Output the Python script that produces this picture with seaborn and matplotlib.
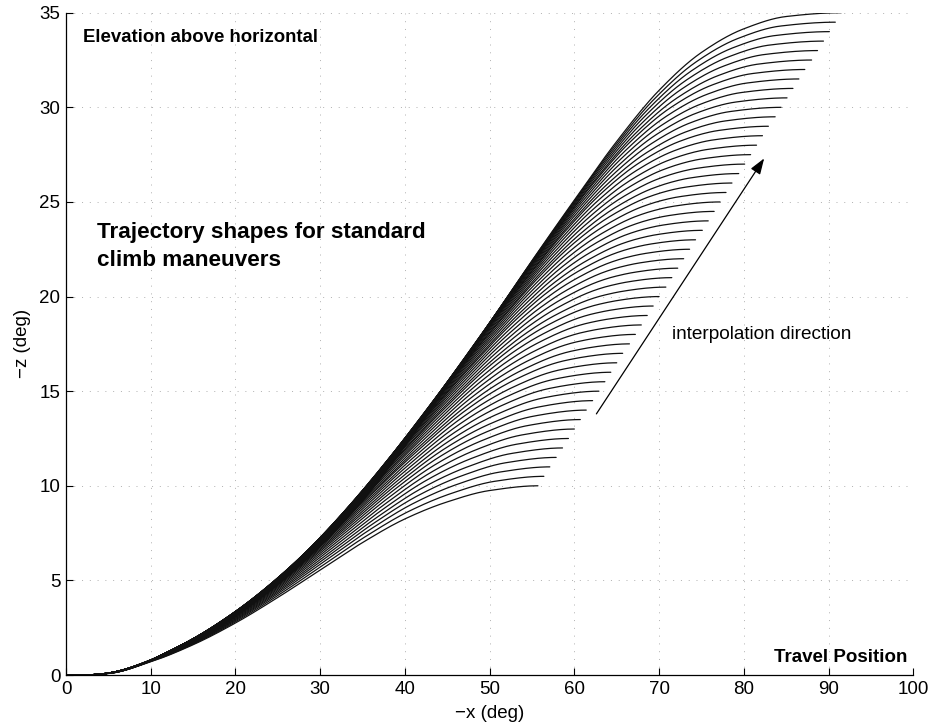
import numpy as np
import pandas as pd
import matplotlib
matplotlib.use("Agg")
import matplotlib.pyplot as plt
import seaborn as sns

# ---- data ----
# final elevation of each trajectory (deg) and travel position where it ends (deg)
final_elevation = [10.0, 10.5, 11.0, 11.5, 12.0, 12.5, 13.0, 13.5, 14.0, 14.5,
                   15.0, 15.5, 16.0, 16.5, 17.0, 17.5, 18.0, 18.5, 19.0, 19.5,
                   20.0, 20.5, 21.0, 21.5, 22.0, 22.5, 23.0, 23.5, 24.0, 24.5,
                   25.0, 25.5, 26.0, 26.5, 27.0, 27.5, 28.0, 28.5, 29.0, 29.5,
                   30.0, 30.5, 31.0, 31.5, 32.0, 32.5, 33.0, 33.5, 34.0, 34.5,
                   35.0]
end_travel = [55.7, 56.4, 57.1, 57.85, 58.6, 59.3, 60.0, 60.7, 61.4, 62.15,
              62.9, 63.6, 64.3, 65.0, 65.7, 66.5, 67.2, 67.9, 68.6, 69.3,
              70.0, 70.8, 71.5, 72.2, 72.9, 73.6, 74.3, 75.1, 75.8, 76.5,
              77.2, 77.9, 78.6, 79.4, 80.1, 80.8, 81.5, 82.2, 82.9, 83.7,
              84.4, 85.1, 85.8, 86.5, 87.2, 88.0, 88.7, 89.4, 90.1, 90.8,
              91.5]

# shape of the highest trajectory (read points)
top_x = [0, 2, 5, 10, 15, 20, 25, 30, 35, 40, 45, 50, 55, 60, 65, 70, 75, 80, 85, 91.5]
top_z = [0, 0, 0.1, 0.8, 1.85, 3.15, 4.8, 6.8, 9.2, 12.1, 15.3, 18.6, 21.9, 25.1,
         28.2, 30.9, 32.9, 34.15, 34.8, 35.0]
# shape of the lowest trajectory (read points)
bot_x = [0, 2, 5, 10, 15, 20, 25, 30, 35, 40, 45, 50, 55.7]
bot_z = [0, 0, 0.08, 0.7, 1.6, 2.75, 4.1, 5.55, 7.0, 8.25, 9.15, 9.75, 10.0]

x_ticks = [0, 10, 20, 30, 40, 50, 60, 70, 80, 90, 100]
y_ticks = [0, 5, 10, 15, 20, 25, 30, 35]


def pchip(xk, yk, xq):
    xk = np.asarray(xk, float)
    yk = np.asarray(yk, float)
    h = np.diff(xk)
    d = np.diff(yk) / h
    n = len(xk)
    m = np.zeros(n)
    for i in range(1, n - 1):
        if d[i - 1] * d[i] <= 0:
            m[i] = 0.0
        else:
            w1 = 2 * h[i] + h[i - 1]
            w2 = h[i] + 2 * h[i - 1]
            m[i] = (w1 + w2) / (w1 / d[i - 1] + w2 / d[i])
    m[0] = 0.0
    m[-1] = 0.0
    idx = np.clip(np.searchsorted(xk, xq) - 1, 0, n - 2)
    t = (xq - xk[idx]) / h[idx]
    h00 = 2 * t**3 - 3 * t**2 + 1
    h10 = t**3 - 2 * t**2 + t
    h01 = -2 * t**3 + 3 * t**2
    h11 = t**3 - t**2
    return (h00 * yk[idx] + h10 * h[idx] * m[idx] + h01 * yk[idx + 1]
            + h11 * h[idx] * m[idx + 1])


u = np.linspace(0, 1, 300)
tn_x = np.array(top_x) / top_x[-1]
tn_z = np.array(top_z) / top_z[-1]
bn_x = np.array(bot_x) / bot_x[-1]
bn_z = np.array(bot_z) / bot_z[-1]
v_top = pchip(tn_x, tn_z, u)
v_bot = pchip(bn_x, bn_z, u)

e_min, e_max = final_elevation[0], final_elevation[-1]
rows = []
for k, (e, xe) in enumerate(zip(final_elevation, end_travel)):
    w = (e - e_min) / (e_max - e_min)
    v = (1 - w) * v_bot + w * v_top
    rows.append(pd.DataFrame({"x": u * xe, "z": v * e, "curve": k}))
df = pd.concat(rows, ignore_index=True)

# ---- plot ----
sns.set_theme(style="white")
plt.rcParams["font.family"] = ["Liberation Sans", "DejaVu Sans"]
plt.rcParams["text.color"] = "black"
plt.rcParams["axes.labelcolor"] = "black"

fig = plt.figure(figsize=(9.3, 7.27), dpi=100)
ax = fig.add_axes([0.071, 0.0715, 0.911, 0.911])

sns.lineplot(data=df, x="x", y="z", units="curve", estimator=None, sort=False,
             color="#111111", linewidth=0.9, legend=False, ax=ax)

ax.set_xlim(0, 100)
ax.set_ylim(0, 35)
ax.set_xticks(x_ticks)
ax.set_yticks(y_ticks)
ax.grid(True, linestyle=(0, (1, 7)), color="#b0b0b0", linewidth=0.7)
for s in ["top", "right"]:
    ax.spines[s].set_visible(False)
for s in ["left", "bottom"]:
    ax.spines[s].set_color("black")
    ax.spines[s].set_linewidth(0.9)
ax.tick_params(direction="in", length=5, width=0.8, colors="black",
               labelsize=13.5, pad=4, bottom=True, left=True)
ax.set_xlabel("\u2212x (deg)", fontsize=13.5, labelpad=5)
ax.set_ylabel("\u2212z (deg)", fontsize=13.5, labelpad=6)

ax.text(2.0, 33.7, "Elevation above horizontal", fontsize=13.4, fontweight="bold",
        ha="left", va="center")
ax.text(3.7, 22.65, "Trajectory shapes for standard\nclimb maneuvers", fontsize=16.2,
        fontweight="bold", ha="left", va="center", linespacing=1.4)
ax.text(71.5, 18.0, "interpolation direction", fontsize=13.7, ha="left", va="center")
ax.text(99.3, 0.95, "Travel Position", fontsize=13.5, fontweight="bold",
        ha="right", va="center")

ax.annotate("", xy=(82.4, 27.3), xytext=(62.6, 13.8),
            arrowprops=dict(arrowstyle="-|>,head_length=0.8,head_width=0.28",
                            color="black", lw=0.9, shrinkA=0, shrinkB=0))

fig.savefig("out.png", dpi=100)
